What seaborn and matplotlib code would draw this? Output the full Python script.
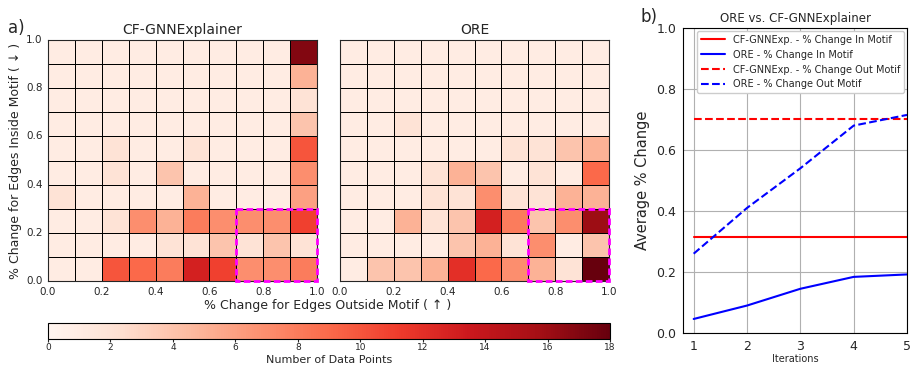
import numpy as np
import pandas as pd
import matplotlib
matplotlib.use("Agg")
import matplotlib.pyplot as plt
from matplotlib.patches import Rectangle
import seaborn as sns

# rows listed top (0.9-1.0 inside motif) to bottom (0.0-0.1); columns 0.0-0.1 ... 0.9-1.0 outside motif
CF_COUNTS = [
    [1, 1, 1, 1, 1, 1, 1, 1, 1, 17],
    [1, 1, 1, 1, 1, 1, 1, 1, 1, 5],
    [1, 1, 1, 1, 1, 1, 1, 1, 1, 2],
    [1, 1, 1, 1, 1, 1, 1, 1, 1, 4],
    [1, 1, 2, 1, 1, 2, 1, 1, 1, 10],
    [1, 1, 2, 1, 4, 1, 1, 1, 1, 7],
    [2, 1, 1, 1, 1, 5, 1, 1, 1, 6],
    [1, 1, 2, 7, 5, 8, 7, 7, 7, 11],
    [1, 1, 1, 1, 2, 2, 4, 2, 4, 2],
    [1, 1, 10, 9, 8, 13, 11, 7, 7, 8],
]
ORE_COUNTS = [
    [1, 1, 1, 1, 1, 1, 1, 1, 1, 1],
    [1, 1, 1, 1, 1, 1, 1, 1, 1, 1],
    [1, 1, 1, 1, 1, 1, 1, 1, 1, 1],
    [1, 1, 2, 1, 1, 1, 1, 1, 1, 1],
    [1, 1, 1, 1, 1, 1, 2, 2, 4, 5],
    [1, 1, 1, 2, 5, 4, 1, 2, 1, 9],
    [1, 1, 1, 2, 2, 7, 2, 2, 5, 5],
    [1, 1, 5, 2, 4, 13, 8, 4, 7, 16],
    [1, 1, 1, 1, 4, 5, 2, 7, 1, 4],
    [1, 4, 4, 5, 12, 9, 7, 5, 2, 18],
]
BIN_LABELS = ["0.0", "0.2", "0.4", "0.6", "0.8", "1.0"]

ITERATIONS = [1, 2, 3, 4, 5]
CF_IN = [0.315, 0.315, 0.315, 0.315, 0.315]
CF_OUT = [0.703, 0.703, 0.703, 0.703, 0.703]
ORE_IN = [0.046, 0.090, 0.145, 0.184, 0.192]
ORE_OUT = [0.260, 0.410, 0.540, 0.680, 0.715]

sns.set_style("white")
plt.rcParams["font.family"] = ["DejaVu Sans"]

fig = plt.figure(figsize=(9.1, 3.66), dpi=100)
W, H = 910, 366


def px_axes(x0, y0, x1, y1):
    return fig.add_axes([x0 / W, 1 - y1 / H, (x1 - x0) / W, (y1 - y0) / H])


ax1 = px_axes(48, 40, 317, 281)
ax2 = px_axes(340, 40, 609, 281)
cax = px_axes(48, 323, 610, 339)
ax3 = px_axes(683, 28, 907, 333)

for ax, counts, title, first in [(ax1, CF_COUNTS, "CF-GNNExplainer", True),
                                 (ax2, ORE_COUNTS, "ORE", False)]:
    sns.heatmap(np.array(counts), ax=ax, cmap="Reds", vmin=0, vmax=18,
                linewidths=0.65, linecolor="black", square=False,
                cbar=first, cbar_ax=cax if first else None,
                cbar_kws={"orientation": "horizontal", "ticks": range(0, 19, 2)})
    ax.set_xticks(np.arange(0, 11, 2))
    ax.set_xticklabels(BIN_LABELS, rotation=0, fontsize=7.5)
    ax.set_yticks(np.arange(10, -1, -2))
    if first:
        ax.set_yticklabels(BIN_LABELS, rotation=0, fontsize=7.5)
    else:
        ax.set_yticklabels([])
    ax.tick_params(axis="both", length=3, width=0.8, pad=1)
    ax.set_title(title, fontsize=10, pad=4)
    for s in ax.spines.values():
        s.set_visible(True)
        s.set_linewidth(0.8)
    ax.add_patch(Rectangle((7, 7), 3, 3, fill=False, edgecolor="magenta",
                           linestyle=(0, (2.4, 1.2)), linewidth=2, zorder=5,
                           clip_on=False))

ax1.set_ylabel("% Change for Edges Inside Motif ( ↓ )", fontsize=9, labelpad=3)
fig.text(328 / W, 1 - 306 / H, "% Change for Edges Outside Motif ( ↑ )",
         ha="center", va="center", fontsize=9)
cax.tick_params(labelsize=6.5, length=2, pad=1)
cax.set_xlabel("Number of Data Points", fontsize=8, labelpad=2)
cbar = ax1.collections[0].colorbar
cbar.outline.set_linewidth(0.8)
cbar.outline.set_edgecolor("black")

ax3.plot(ITERATIONS, CF_IN, color="red", linestyle="-", label="CF-GNNExp. - % Change In Motif")
ax3.plot(ITERATIONS, ORE_IN, color="blue", linestyle="-", label="ORE - % Change In Motif")
ax3.plot(ITERATIONS, CF_OUT, color="red", linestyle="--", label="CF-GNNExp. - % Change Out Motif")
ax3.plot(ITERATIONS, ORE_OUT, color="blue", linestyle="--", label="ORE - % Change Out Motif")
ax3.set_xlim(0.8, 5.0)
ax3.set_ylim(0, 1.0)
ax3.set_xticks(ITERATIONS)
ax3.set_yticks([0.0, 0.2, 0.4, 0.6, 0.8, 1.0])
ax3.grid(True, color="#b0b0b0", linewidth=0.8)
ax3.tick_params(labelsize=9, length=3, pad=2)
ax3.set_title("ORE vs. CF-GNNExplainer", fontsize=8.5, pad=4)
ax3.set_ylabel("Average % Change", fontsize=10.5)
ax3.set_xlabel("Iterations", fontsize=7, labelpad=1)
ax3.legend(loc="upper right", fontsize=7, frameon=True, framealpha=1,
           borderaxespad=0.3, handlelength=2.5)
for s in ax3.spines.values():
    s.set_color("black")

fig.text(8 / W, 1 - 28 / H, "a)", fontsize=12, ha="left", va="center")
fig.text(640 / W, 1 - 17 / H, "b)", fontsize=12, ha="left", va="center")

fig.savefig("out.png", dpi=100)
